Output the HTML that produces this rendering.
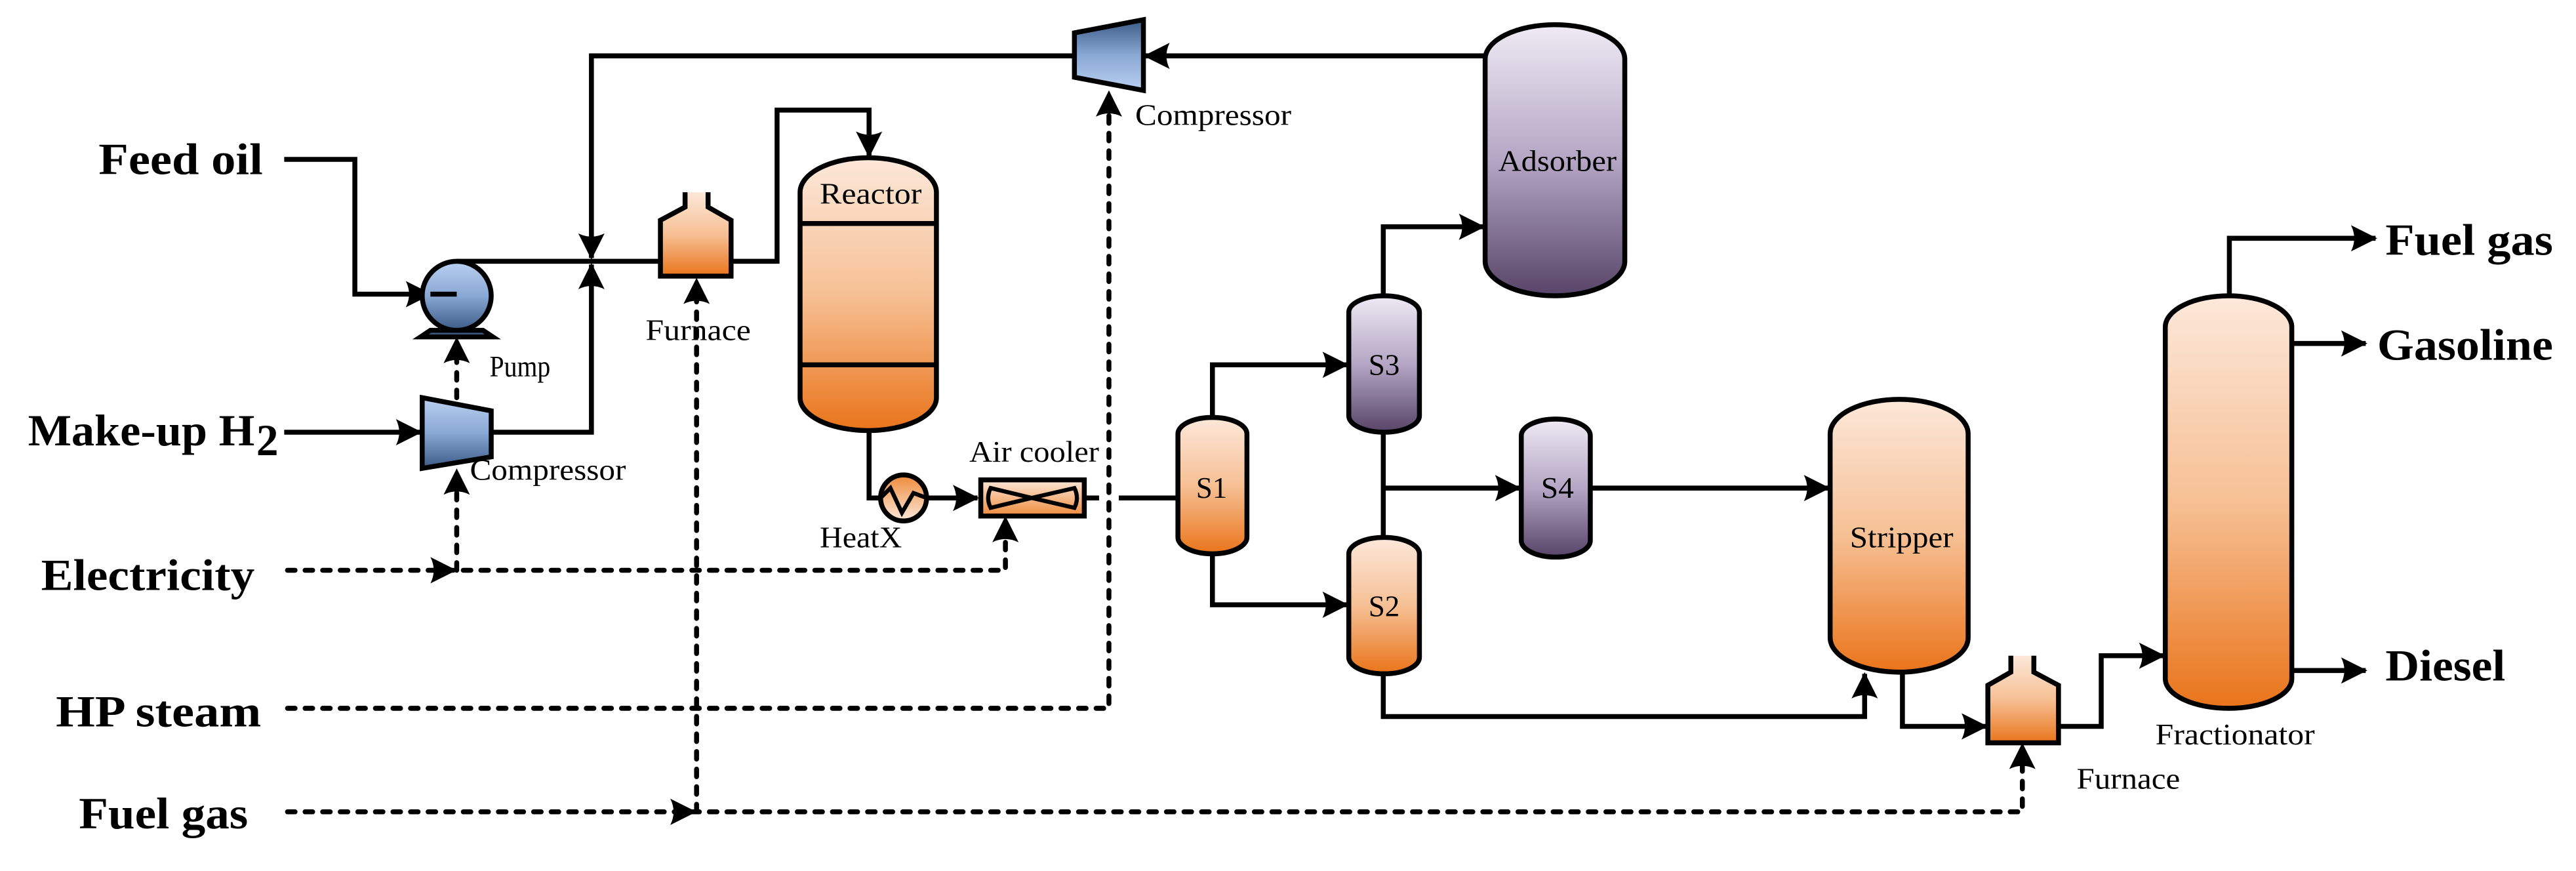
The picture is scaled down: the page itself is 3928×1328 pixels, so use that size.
<!DOCTYPE html>
<html><head><meta charset="utf-8"><style>
html,body{margin:0;padding:0;background:#fff;}
svg{display:block;}
text{font-family:"Liberation Serif",serif;fill:#000;}
.b{font-weight:bold;font-size:27px;}
.s{font-size:18px;}
</style></head><body>
<svg width="3928" height="1328" viewBox="0 0 1568 530" preserveAspectRatio="none" xmlns="http://www.w3.org/2000/svg">
<defs>
<linearGradient id="og" x1="0" y1="0" x2="0" y2="1"><stop offset="0" stop-color="#fce8da"/><stop offset="0.5" stop-color="#f6c094"/><stop offset="1" stop-color="#e9741a"/></linearGradient>
<linearGradient id="ogr" x1="0" y1="1" x2="0" y2="0"><stop offset="0" stop-color="#fce8da"/><stop offset="1" stop-color="#ee8a3a"/></linearGradient>
<linearGradient id="pg" x1="0" y1="0" x2="0" y2="1"><stop offset="0" stop-color="#efeaf4"/><stop offset="0.5" stop-color="#b4a6c4"/><stop offset="1" stop-color="#574468"/></linearGradient>
<linearGradient id="bg" x1="0" y1="0" x2="0" y2="1"><stop offset="0" stop-color="#b9d0f0"/><stop offset="0.5" stop-color="#8aa8d4"/><stop offset="1" stop-color="#3c5a86"/></linearGradient>
<linearGradient id="bgr" x1="0" y1="1" x2="0" y2="0"><stop offset="0" stop-color="#b9d0f0"/><stop offset="0.5" stop-color="#8aa8d4"/><stop offset="1" stop-color="#3c5a86"/></linearGradient>
<marker id="ar" viewBox="0 0 16 16" refX="15" refY="8" markerWidth="16" markerHeight="16" markerUnits="userSpaceOnUse" orient="auto">
<path d="M0,0 L16,8 L0,16 Q4,8 0,0 Z" fill="#000"/></marker>
</defs>
<g fill="none" stroke="#000" stroke-width="3">
<polyline points="173,97 216,97 216,179 262,179" marker-end="url(#ar)"/>
<polyline points="277,179 262,179"/>
<polyline points="278,159 402,159"/>
<polyline points="904,34 697,34" marker-end="url(#ar)"/>
<polyline points="654,34 360,34 360,157" marker-end="url(#ar)"/>
<polyline points="299,263 360,263 360,161" marker-end="url(#ar)"/>
<polyline points="173,263 256,263" marker-end="url(#ar)"/>
<polyline points="445,159 473,159 473,67 529,67 529,95" marker-end="url(#ar)"/>
<polyline points="529,262 529,303 536,303"/>
<polyline points="564,303 595,303" marker-end="url(#ar)"/>
<polyline points="660,303 669,303"/>
<polyline points="681,303 717,303"/>
<polyline points="738,254 738,222 820,222" marker-end="url(#ar)"/>
<polyline points="738,337 738,368 820,368" marker-end="url(#ar)"/>
<polyline points="842,263 842,327"/>
<polyline points="842,297 925,297" marker-end="url(#ar)"/>
<polyline points="968,297 1113,297" marker-end="url(#ar)"/>
<polyline points="842,180 842,138 903,138" marker-end="url(#ar)"/>
<polyline points="842,410 842,436 1135,436 1135,410" marker-end="url(#ar)"/>
<polyline points="1158,409 1158,442 1209,442" marker-end="url(#ar)"/>
<polyline points="1253,442 1279,442 1279,399 1317,399" marker-end="url(#ar)"/>
<polyline points="1357,180 1357,145 1446,145" marker-end="url(#ar)"/>
<polyline points="1395,209 1440,209" marker-end="url(#ar)"/>
<polyline points="1395,408 1440,408" marker-end="url(#ar)"/>
</g>
<g fill="none" stroke="#000" stroke-width="3" stroke-dasharray="4.6 6.1" stroke-linecap="round">
<polyline points="175,347 612,347 612,322"/>
<polyline points="278,347 278,300"/>
<polyline points="278,242 278,214"/>
<polyline points="175,431 675,431 675,66"/>
<polyline points="175,494 1231,494 1231,464"/>
<polyline points="424,494 424,180"/>
</g>
<g fill="#000">
<path d="M262,339 L278,347 L262,355 Q266,347 262,339 Z"/>
<path d="M408,486 L424,494 L408,502 Q412,494 408,486 Z"/>
<path d="M270,301 L278,285 L286,301 Q278,297 270,301 Z"/>
<path d="M270,221 L278,205 L286,221 Q278,217 270,221 Z"/>
<path d="M604,330 L612,314 L620,330 Q612,326 604,330 Z"/>
<path d="M667,71 L675,55 L683,71 Q675,67 667,71 Z"/>
<path d="M416,185 L424,169 L432,185 Q424,181 416,185 Z"/>
<path d="M1223,468 L1231,452 L1239,468 Q1231,464 1223,468 Z"/>
</g>
<g stroke="#000" stroke-width="3">
<!-- pump -->
<path d="M262,201 L294,201 L300,205 L256,205 Z" fill="#3c5a86"/>
<circle cx="278" cy="180" r="21" fill="url(#bg)"/>
<line x1="262" y1="179" x2="278" y2="179" fill="none"/>
<!-- compressor 1 -->
<path d="M257,242 L299,250 L299,278 L257,285 Z" fill="url(#bg)"/>
<!-- compressor 2 -->
<path d="M654,20 L696,12 L696,55 L654,47 Z" fill="url(#bgr)"/>
<!-- furnace 1 -->
<path d="M402,168 L402,134 L417,126 L417,117 L431,117 L431,126 L445,134 L445,168 Z" fill="url(#og)" stroke="none"/>
<path d="M417,117 L417,126 L402,134 L402,168 L445,168 L445,134 L431,126 L431,117" fill="none"/>
<!-- reactor -->
<path d="M487,117 A41.5,21 0 0 1 570,117 L570,242 A41.5,20 0 0 1 487,242 Z" fill="url(#og)"/>
<line x1="487" y1="136" x2="570" y2="136"/>
<line x1="487" y1="222" x2="570" y2="222"/>
<!-- heatx -->
<circle cx="550" cy="303" r="14" fill="url(#ogr)"/>
<polyline points="536,303 542,297 549,312 556,300 564,303" fill="none" stroke-width="2.5"/>
<!-- air cooler -->
<rect x="597" y="292" width="63" height="22" fill="url(#ogr)" transform="rotate(180 628.5 303)"/>
<path d="M603,297 Q600,303 603,309 L628,303 L654,309 Q657,303 654,297 L628,303 Z" fill="none" stroke-width="2.5"/>
<!-- S1 -->
<path d="M717,264 A21,10 0 0 1 759,264 L759,327 A21,10 0 0 1 717,327 Z" fill="url(#og)"/>
<!-- S3 -->
<path d="M821,190 A21.5,10 0 0 1 864,190 L864,253 A21.5,10 0 0 1 821,253 Z" fill="url(#pg)"/>
<!-- S2 -->
<path d="M821,337 A21.5,10 0 0 1 864,337 L864,400 A21.5,10 0 0 1 821,400 Z" fill="url(#og)"/>
<!-- S4 -->
<path d="M926,265 A21,10 0 0 1 968,265 L968,329 A21,10 0 0 1 926,329 Z" fill="url(#pg)"/>
<!-- adsorber -->
<path d="M904,36 A42.5,21 0 0 1 989,36 L989,159 A42.5,21 0 0 1 904,159 Z" fill="url(#pg)"/>
<!-- stripper -->
<path d="M1114,264 A42,21 0 0 1 1198,264 L1198,388 A42,21 0 0 1 1114,388 Z" fill="url(#og)"/>
<!-- furnace 2 -->
<path d="M1210,452 L1210,417 L1224,409 L1224,399 L1238,399 L1238,409 L1253,417 L1253,452 Z" fill="url(#og)" stroke="none"/>
<path d="M1224,399 L1224,409 L1210,417 L1210,452 L1253,452 L1253,417 L1238,409 L1238,399" fill="none"/>
<!-- fractionator -->
<path d="M1318,199 A38.5,19 0 0 1 1395,199 L1395,413 A38.5,18 0 0 1 1318,413 Z" fill="url(#og)"/>
</g>
<text class="b" x="60" y="106" textLength="100" lengthAdjust="spacingAndGlyphs">Feed oil</text>
<text class="b" x="17" y="271" textLength="138" lengthAdjust="spacingAndGlyphs">Make-up H</text>
<text class="b" x="156" y="277" font-size="16">2</text>
<text class="b" x="25" y="359" textLength="130" lengthAdjust="spacingAndGlyphs">Electricity</text>
<text class="b" x="34" y="442" textLength="125" lengthAdjust="spacingAndGlyphs">HP steam</text>
<text class="b" x="48" y="504" textLength="103" lengthAdjust="spacingAndGlyphs">Fuel gas</text>
<text class="b" x="1452" y="155" textLength="102" lengthAdjust="spacingAndGlyphs">Fuel gas</text>
<text class="b" x="1447" y="219" textLength="107" lengthAdjust="spacingAndGlyphs">Gasoline</text>
<text class="b" x="1452" y="414" textLength="73" lengthAdjust="spacingAndGlyphs">Diesel</text>
<text class="s" x="298" y="229" textLength="37" lengthAdjust="spacingAndGlyphs">Pump</text>
<text class="s" x="286" y="292" textLength="95" lengthAdjust="spacingAndGlyphs">Compressor</text>
<text class="s" x="691" y="76" textLength="95" lengthAdjust="spacingAndGlyphs">Compressor</text>
<text class="s" x="393" y="207" textLength="64" lengthAdjust="spacingAndGlyphs">Furnace</text>
<text class="s" x="499" y="124" textLength="62" lengthAdjust="spacingAndGlyphs">Reactor</text>
<text class="s" x="499" y="333" textLength="50" lengthAdjust="spacingAndGlyphs">HeatX</text>
<text class="s" x="590" y="281" textLength="79" lengthAdjust="spacingAndGlyphs">Air cooler</text>
<text class="s" x="728" y="303" textLength="19" lengthAdjust="spacingAndGlyphs">S1</text>
<text class="s" x="833" y="228" textLength="19" lengthAdjust="spacingAndGlyphs">S3</text>
<text class="s" x="833" y="375" textLength="19" lengthAdjust="spacingAndGlyphs">S2</text>
<text class="s" x="938" y="303" textLength="20" lengthAdjust="spacingAndGlyphs">S4</text>
<text class="s" x="912" y="104" textLength="72" lengthAdjust="spacingAndGlyphs">Adsorber</text>
<text class="s" x="1126" y="333" textLength="63" lengthAdjust="spacingAndGlyphs">Stripper</text>
<text class="s" x="1312" y="453" textLength="97" lengthAdjust="spacingAndGlyphs">Fractionator</text>
<text class="s" x="1264" y="480" textLength="63" lengthAdjust="spacingAndGlyphs">Furnace</text>
</svg>
</body></html>
